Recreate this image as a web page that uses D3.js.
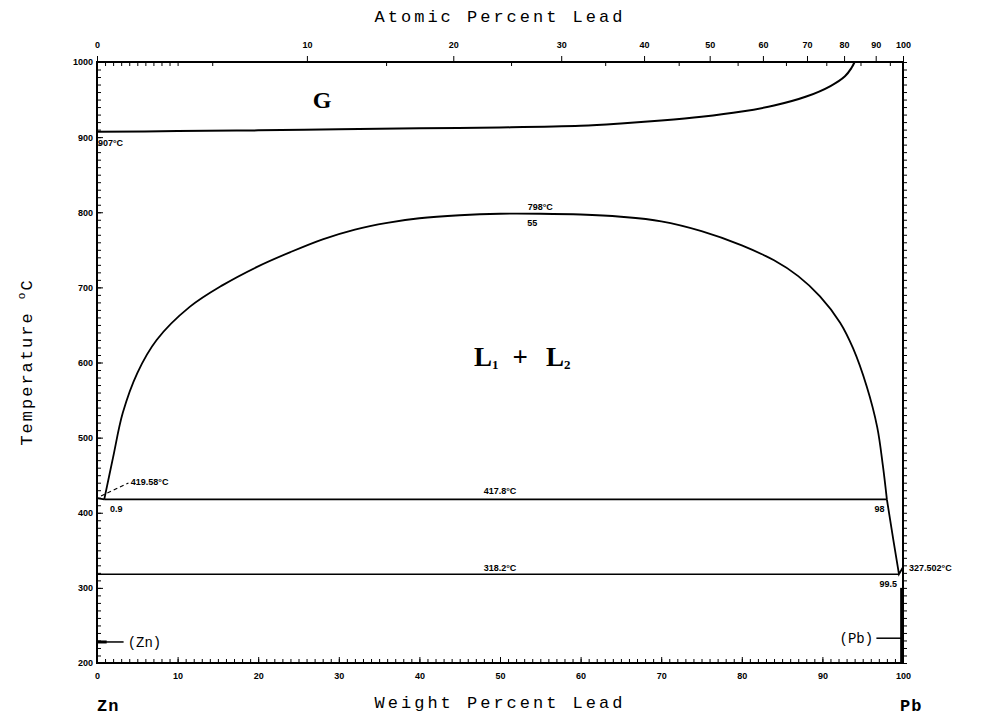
<!DOCTYPE html>
<html>
<head>
<meta charset="utf-8">
<script src="https://cdn.jsdelivr.net/npm/d3@7"></script>
<style>
body { margin: 0; background: #fff; }
svg { display: block; }
.axis text { font-family: "Liberation Sans", sans-serif; font-size: 9px; font-weight: bold; fill: #000; }
.axis path, .axis line { stroke: #000; }
.title { font-family: "Liberation Mono", monospace; font-size: 17px; letter-spacing: 3px; fill: #000; }
.note { font-family: "Liberation Sans", sans-serif; font-size: 9px; font-weight: bold; fill: #000; }
.phase { font-family: "Liberation Serif", serif; font-weight: bold; fill: #000; }
</style>
</head>
<body>
<svg width="995" height="717"></svg>
<script>
// boundary of the gas field (wt% Pb, deg C)
var gasWt = [0, 10, 20, 30, 40, 50, 60, 65, 70, 75, 80, 84, 88, 91, 92.8, 93.6, 94];
var gasT = [907, 908, 909, 910.5, 911.7, 912.8, 915, 918, 922, 927, 934, 942, 954, 968, 981, 992, 1000];

// L1 + L2 miscibility gap
var gapWt = [0.9, 2.0, 3.2, 5.0, 7.4, 11.5, 15.6, 19.8, 24, 28, 32, 36, 40, 45, 50, 55, 60, 65, 70, 75, 80, 84, 87, 89.7, 92.2, 93.8, 95.5, 96.8, 97.5, 98];
var gapT = [417.8, 474, 533, 586, 630, 674, 703, 727, 747, 764, 777, 786, 792, 796, 798, 798, 797, 794, 788, 775, 756, 736, 715, 688, 653, 619, 568, 514, 463, 417.8];

// Pb-rich liquidus below the monotectic
var pbLiqWt = [98, 98.8, 99.5, 100];
var pbLiqT = [417.8, 364, 318.2, 327.502];

// Zn-rich liquidus
var znLiqWt = [0, 0.9];
var znLiqT = [419.58, 417.8];

// invariant lines: temperature, from wt%, to wt%
var isoT = [417.8, 318.2];
var isoFrom = [0.9, 0];
var isoTo = [98, 99.5];

// tick labels
var wtTicks = [0, 10, 20, 30, 40, 50, 60, 70, 80, 90, 100];
var atTicks = [0, 10, 20, 30, 40, 50, 60, 70, 80, 90, 100];
var tempTicks = [200, 300, 400, 500, 600, 700, 800, 900, 1000];

function atToWt(a) {
  return 100 * a * 207.2 / (a * 207.2 + (100 - a) * 65.38);
}

var svg = d3.select("svg");
var x = d3.scaleLinear().domain([0, 100]).range([97, 903]);
var y = d3.scaleLinear().domain([200, 1000]).range([663, 62]);

// bottom axis
svg.append("g").attr("class", "axis")
  .attr("transform", "translate(0,663)")
  .call(d3.axisBottom(x).tickValues(d3.range(0, 101, 1)).tickSize(-4).tickFormat(""))
  .call(function (g) { g.select(".domain").remove(); });
svg.append("g").attr("class", "axis")
  .attr("transform", "translate(0,663)")
  .call(d3.axisBottom(x).tickValues(wtTicks).tickSize(-6).tickPadding(10).tickFormat(d3.format("d")))
  .call(function (g) { g.select(".domain").remove(); });

// left axis
svg.append("g").attr("class", "axis")
  .attr("transform", "translate(97,0)")
  .call(d3.axisLeft(y).tickValues(d3.range(200, 1001, 10)).tickSize(-4).tickFormat(""))
  .call(function (g) { g.select(".domain").remove(); });
svg.append("g").attr("class", "axis")
  .attr("transform", "translate(97,0)")
  .call(d3.axisLeft(y).tickValues(tempTicks).tickSize(-6).tickPadding(4).tickFormat(d3.format("d")))
  .call(function (g) { g.select(".domain").remove(); });

// right axis
svg.append("g").attr("class", "axis")
  .attr("transform", "translate(903,0)")
  .call(d3.axisRight(y).tickValues(d3.range(200, 1001, 10)).tickSize(4).tickFormat(""))
  .call(function (g) { g.select(".domain").remove(); });

// top axis, atomic percent
svg.append("g").attr("class", "axis")
  .attr("transform", "translate(0,62)")
  .call(d3.axisTop(x).tickValues(d3.range(0, 11, 1)).tickSize(-4).tickFormat(""))
  .call(function (g) { g.select(".domain").remove(); });
svg.append("g").attr("class", "axis")
  .attr("transform", "translate(0,62)")
  .call(d3.axisTop(x).tickValues(d3.range(5, 100, 10).map(atToWt)).tickSize(-4).tickFormat(""))
  .call(function (g) { g.select(".domain").remove(); });
svg.append("g").attr("class", "axis")
  .attr("transform", "translate(0,62)")
  .call(d3.axisTop(x).tickValues(atTicks.map(atToWt)).tickSize(6).tickPadding(8)
    .tickFormat(function (d, i) { return atTicks[i]; }))
  .call(function (g) { g.select(".domain").remove(); });

// frame
svg.append("rect")
  .attr("x", x(0)).attr("y", y(1000))
  .attr("width", x(100) - x(0)).attr("height", y(200) - y(1000))
  .attr("fill", "none").attr("stroke", "#000").attr("stroke-width", 2);

var line = d3.line()
  .x(function (d) { return x(d[0]); })
  .y(function (d) { return y(d[1]); })
  .curve(d3.curveCatmullRom.alpha(0.5));
var straight = d3.line()
  .x(function (d) { return x(d[0]); })
  .y(function (d) { return y(d[1]); });

function pairs(a, b) { return a.map(function (v, i) { return [v, b[i]]; }); }

svg.append("path").datum(pairs(gasWt, gasT))
  .attr("d", line).attr("fill", "none").attr("stroke", "#000").attr("stroke-width", 2);
svg.append("path").datum(pairs(gapWt, gapT))
  .attr("d", line).attr("fill", "none").attr("stroke", "#000").attr("stroke-width", 1.8);
svg.append("path").datum(pairs(pbLiqWt, pbLiqT))
  .attr("d", straight).attr("fill", "none").attr("stroke", "#000").attr("stroke-width", 1.8);
svg.append("path").datum(pairs(znLiqWt, znLiqT))
  .attr("d", straight).attr("fill", "none").attr("stroke", "#000").attr("stroke-width", 1.8);

isoT.forEach(function (t, i) {
  svg.append("line")
    .attr("x1", x(isoFrom[i])).attr("x2", x(isoTo[i]))
    .attr("y1", y(t)).attr("y2", y(t))
    .attr("stroke", "#000").attr("stroke-width", 1.6);
});

// (Pb) solvus along the right edge
svg.append("line")
  .attr("x1", x(99.8)).attr("x2", x(99.8))
  .attr("y1", y(300)).attr("y2", y(200))
  .attr("stroke", "#000").attr("stroke-width", 2.5);

// axis titles
svg.append("text").attr("class", "title").attr("x", 500).attr("y", 22)
  .attr("text-anchor", "middle").text("Atomic Percent Lead");
svg.append("text").attr("class", "title").attr("x", 500).attr("y", 708)
  .attr("text-anchor", "middle").text("Weight Percent Lead");
svg.append("text").attr("class", "title").attr("x", 97).attr("y", 711)
  .style("font-weight", "bold").style("letter-spacing", "1px").text("Zn");
svg.append("text").attr("class", "title").attr("x", 900).attr("y", 711)
  .style("font-weight", "bold").style("letter-spacing", "1px").text("Pb");
var yl = svg.append("text").attr("class", "title")
  .attr("transform", "translate(32,362) rotate(-90)")
  .style("letter-spacing", "2px")
  .attr("text-anchor", "middle");
yl.append("tspan").text("Temperature  ");
yl.append("tspan").style("font-size", "11px").attr("dy", "-7").text("o");
yl.append("tspan").attr("dy", "7").text("C");

// phase fields
svg.append("text").attr("class", "phase").attr("x", 322).attr("y", 108)
  .attr("text-anchor", "middle").style("font-size", "24px").text("G");
var ll = svg.append("text").attr("class", "phase").attr("x", 474).attr("y", 366)
  .style("font-size", "27px");
ll.append("tspan").text("L");
ll.append("tspan").style("font-size", "13px").attr("dy", "3").text("1");
ll.append("tspan").attr("dy", "-3").attr("dx", "14").text("+");
ll.append("tspan").attr("dx", "18").text("L");
ll.append("tspan").style("font-size", "13px").attr("dy", "3").text("2");

// annotations
function note(tx, ty, s, anchor) {
  svg.append("text").attr("class", "note").attr("x", tx).attr("y", ty)
    .attr("text-anchor", anchor || "start").text(s);
}
note(x(0) + 1, y(907) + 14, "907\u00b0C");
note(x(55), y(798) - 4, "798\u00b0C", "middle");
note(x(54), y(798) + 12, "55", "middle");
note(x(50), y(417.8) - 5, "417.8\u00b0C", "middle");
note(x(50), y(318.2) - 3, "318.2\u00b0C", "middle");
note(x(1.6), y(417.8) + 13, "0.9");
note(x(97.7), y(417.8) + 13, "98", "end");
note(x(99.5) - 2, y(318.2) + 13, "99.5", "end");
note(x(100) + 6, y(327.502) + 4, "327.502\u00b0C");
note(x(4.2), y(419.58) - 13, "419.58\u00b0C");

svg.append("line")
  .attr("x1", x(0.5)).attr("y1", y(419.58) - 2)
  .attr("x2", x(3.9)).attr("y2", y(419.58) - 15)
  .attr("stroke", "#000").attr("stroke-width", 1.2).attr("stroke-dasharray", "4,3");

// (Zn) and (Pb) labels with leaders
svg.append("line").attr("x1", x(0)).attr("x2", x(3.3))
  .attr("y1", y(228)).attr("y2", y(228)).attr("stroke", "#000").attr("stroke-width", 1.5);
svg.append("line").attr("x1", x(0)).attr("x2", x(1.2))
  .attr("y1", y(228)).attr("y2", y(228)).attr("stroke", "#000").attr("stroke-width", 3);
svg.append("text").attr("class", "title").attr("x", x(3.8)).attr("y", y(228) + 5)
  .style("font-size", "14px").style("letter-spacing", "0px").text("(Zn)");
svg.append("line").attr("x1", x(96.7)).attr("x2", x(100))
  .attr("y1", y(233)).attr("y2", y(233)).attr("stroke", "#000").attr("stroke-width", 1.5);
svg.append("text").attr("class", "title").attr("x", x(96.3)).attr("y", y(233) + 5)
  .attr("text-anchor", "end").style("font-size", "14px").style("letter-spacing", "0px").text("(Pb)");
</script>
</body>
</html>
